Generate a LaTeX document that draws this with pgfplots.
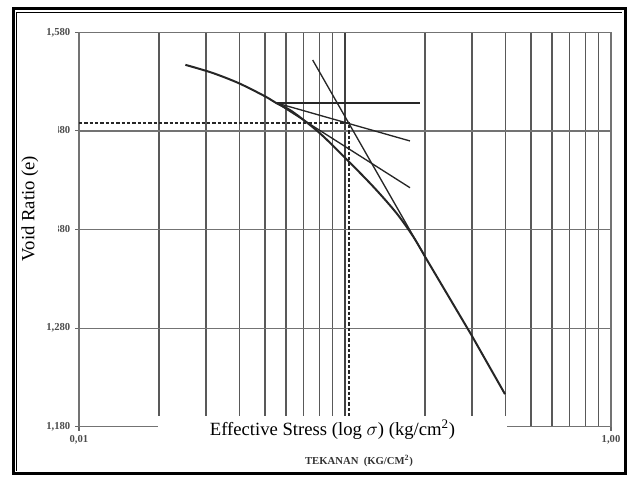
\documentclass[border=0pt]{standalone}
\usepackage{fontspec}
\setmainfont{Liberation Serif}
\usepackage{pgfplots}
\pgfplotsset{compat=1.18}
\begin{document}
\begin{tikzpicture}
\begin{axis}[
  scale only axis, width=399pt, height=295.8pt,
  at={(0,0)}, anchor=south west,
  xmode=log, xmin=0.01, xmax=1, ymin=1.18, ymax=1.58,
  xtick={0.01,0.1,1}, xticklabels={{0,01},{},{1,00}},
  minor xtick={0.02,0.03,0.04,0.05,0.06,0.07,0.08,0.09,0.2,0.3,0.4,0.5,0.6,0.7,0.8,0.9},
  ytick={1.18,1.28,1.38,1.48,1.58},
  yticklabels={{1,180},{1,280},{1,380},{1,480},{1,580}},
  xmajorgrids, xminorgrids, ymajorgrids,
  major x grid style={black!75, line width=1.1pt},
  minor x grid style={black!65, line width=0.9pt},
  major y grid style={black!55, line width=0.9pt},
  axis line style={black!55, line width=0.9pt},
  tick pos=left, tick align=outside, major tick length=3pt, minor tick length=0pt,
  tick style={black!60, line width=0.8pt},
  ticklabel style={font=\fontsize{8}{9}\selectfont\bfseries, text=black!70},
  xlabel={Effective Stress (log $\sigma$) (kg/cm\textsuperscript{2})},
  xlabel style={at={(axis description cs:0.4765,-0.0084)}, anchor=center, fill=white, minimum width=261.75pt, minimum height=21pt, inner sep=0pt, font=\fontsize{14}{16}\selectfont},
  ylabel={Void Ratio (e)},
  ylabel style={at={(axis description cs:-0.0921,0.5532)}, anchor=center, font=\fontsize{14}{16}\selectfont},
  clip=false,
]
% e-log p curve
\addplot[black!85, line width=1.5pt, smooth] coordinates {
  (0.02512,1.547) (0.03162,1.539) (0.03981,1.5285) (0.05012,1.515) (0.05534,1.508)
  (0.0631,1.500) (0.07943,1.479) (0.0986,1.4545) (0.1278,1.4234) (0.1564,1.3964)
  (0.1806,1.3727) (0.2,1.3524)};
\addplot[black!85, line width=1.5pt] coordinates {
  (0.2,1.3524) (0.2995,1.2725) (0.3996,1.213)};
% Casagrande construction
\addplot[black!85, line width=1.2pt] coordinates {(0.05534,1.5083) (0.1914,1.5083)};
\addplot[black!85, line width=1pt] coordinates {(0.05534,1.5083) (0.1755,1.4224)};
\addplot[black!85, line width=1pt] coordinates {(0.05534,1.5083) (0.1755,1.4698)};
\addplot[black!85, line width=1pt] coordinates {(0.0756,1.5519) (0.2,1.3524)};
\addplot[black!85, line width=1.1pt, dash pattern=on 2.5pt off 1.5pt] coordinates {
  (0.01,1.488) (0.1035,1.488) (0.1035,1.18)};
\end{axis}
\begin{scope}[shift={(-59.25pt,320.025pt)}, x=0.75pt, y=-0.75pt]
  \fill[white] (39,112) rectangle (58.2,300);
  \node[font=\fontsize{8}{10}\selectfont\bfseries, text=black!80] at (359,461) {TEKANAN\ \ (KG/CM\textsuperscript{2})};
  \draw[line width=2.1pt] (13.8,8.7) rectangle (625.8,473.8);
  \draw[line width=0.75pt] (16.9,470.5) -- (16.9,12.3) -- (622,12.3);
  \pgfresetboundingbox
  \useasboundingbox (0,0) rectangle (627,476);
\end{scope}
\end{tikzpicture}
\end{document}
